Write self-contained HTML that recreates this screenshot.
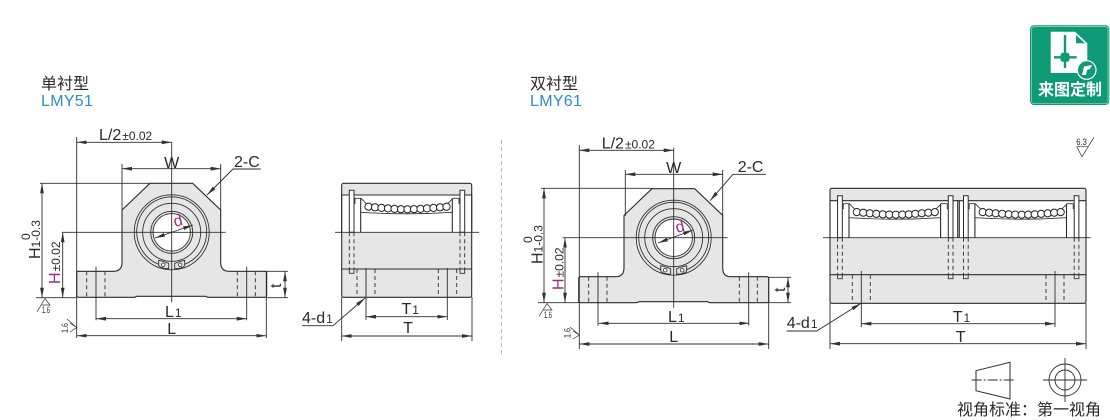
<!DOCTYPE html>
<html><head><meta charset="utf-8"><style>
html,body{margin:0;padding:0;background:#fff}
svg{display:block}
text{font-family:"Liberation Sans","Noto Sans CJK SC",sans-serif;fill:#2a2a2a}
.d{stroke:#2e2e2e;stroke-width:.9;fill:none}
.o{stroke:#2b2b2b;stroke-width:1.1;fill:none}
.t{font-size:16px}
.s{font-size:12px}
.r{stroke:#333;stroke-width:.7;fill:none}
</style></head><body>
<svg width="1110" height="420" viewBox="0 0 1110 420" xmlns="http://www.w3.org/2000/svg">
<defs>
<marker id="a" viewBox="0 0 10 5" refX="10" refY="2.5" markerWidth="10" markerHeight="5" markerUnits="userSpaceOnUse" orient="auto-start-reverse"><path d="M0,.6L10,2.5L0,4.4Z" fill="#333"/></marker>
<g id="front">
<path d="M-95,65V41Q-95,39-93,39H-58Q-49.7,39-49.7,30V-22.3L-21.7,-49H21L49,-22.3V30Q49,39 57,39H93Q95,39 95,41V63Q95,65 93,65H36L34,64H-35L-37,65H-93Q-95,65-95,63Z" fill="#e6e6e6" stroke="#2b2b2b" stroke-width="1.1"/>
<g fill="none" stroke="#2b2b2b" stroke-width=".85">
<circle r="37.5"/>
<path d="M-13,32A35,35 0 1 1 13,32"/>
<circle r="29"/>
</g>
<circle r="21" fill="#e6e6e6" stroke="#2b2b2b" stroke-width=".9"/>
<circle r="18.7" fill="#fff" stroke="#2b2b2b" stroke-width=".9"/>
<path d="M-13,28L-13,33Q-12,36-3,36.5L-3,31Q-8,29-13,28ZM13,28L13,33Q12,36 3,36.5L3,31Q8,29 13,28Z" fill="#e6e6e6" stroke="#2b2b2b" stroke-width=".85"/>
<circle cx="-8.5" cy="32.5" r="1.8" fill="#fff" stroke="#2b2b2b" stroke-width=".8"/><circle cx="8.5" cy="32.5" r="1.8" fill="#fff" stroke="#2b2b2b" stroke-width=".8"/>
<path class="d" d="M0,-90V70M-46,0H54"/>
<path class="d" d="M-75.7,34.5V88M75,34.5V88"/>
<path class="d" stroke-dasharray="4 3" d="M-85,39V65M-66.7,39V65M65.6,39V65M83.6,39V65"/>
</g>
<g id="balls">
<g fill="#fff" stroke="#222" stroke-width="1">
<circle cx="-38.5" cy="-25.6" r="3.6"/><circle cx="-32" cy="-25" r="3.6"/><circle cx="-25.5" cy="-24.4" r="3.6"/><circle cx="-19" cy="-23.9" r="3.6"/><circle cx="-12.5" cy="-23.4" r="3.6"/><circle cx="-6" cy="-23.1" r="3.6"/><circle cx=".5" cy="-23" r="3.6"/><circle cx="7" cy="-23.1" r="3.6"/><circle cx="13.5" cy="-23.4" r="3.6"/><circle cx="20" cy="-23.9" r="3.6"/><circle cx="26.5" cy="-24.4" r="3.6"/><circle cx="33" cy="-25" r="3.6"/><circle cx="39.5" cy="-25.6" r="3.6"/>
</g>
</g>
<g id="cell">
<path class="o" d="M-46.3,-34V0M45.3,-34V0"/>
<path class="r" style="stroke-width:.9" d="M-53,-29H-52V-34H-46L-39,-27M53,-29H52V-34H46L39,-27"/>
<path class="r" style="stroke-width:.8" d="M-46,-20Q0,-17 45,-20"/>
<use href="#balls"/>
<path d="M-57.7,-37V-42H-53V-37V0H-57.7ZM57.7,-37V-42H53V-37V0H57.7Z" fill="#fff" stroke="#2b2b2b" stroke-width="1"/>
<path class="d" stroke-dasharray="4 3" d="M-57.7,0V37M-53,0V37M57.7,0V37M53,0V37"/>
<path class="r" style="stroke-width:.9" d="M-57.7,37V41H-53V37M57.7,37V41H53V37"/>
</g>
</defs>

<text x="41" y="89" class="t">单衬型</text>
<text x="41" y="106" class="t" style="fill:#2b8fc5;letter-spacing:.3px">LMY51</text>
<text x="530" y="89" class="t">双衬型</text>
<text x="530" y="106" class="t" style="fill:#2b8fc5;letter-spacing:.3px">LMY61</text>

<!-- LEFT FRONT -->
<use href="#front" x="171.7" y="232.3"/>
<path class="d" d="M76.7,137V338M266.3,271V338M122,164V210M220.7,164V210M40,183.3H150M36,297.7H76M62,232.3H126M266,271.3H288M266,297.7H288"/>
<path class="d" marker-start="url(#a)" marker-end="url(#a)" d="M76.7,142.3H171.7"/>
<path class="d" marker-start="url(#a)" marker-end="url(#a)" d="M122,168.7H220.7"/>
<path class="d" marker-start="url(#a)" marker-end="url(#a)" d="M42,183.3V297.7"/>
<path class="d" marker-start="url(#a)" marker-end="url(#a)" d="M62.7,232.3V297.7"/>
<path class="d" marker-start="url(#a)" marker-end="url(#a)" d="M96,318.7H246.7"/>
<path class="d" marker-start="url(#a)" marker-end="url(#a)" d="M76.7,335.7H266.3"/>
<path class="d" marker-end="url(#a)" d="M260.7,169H233L207,195"/>
<path class="d" marker-start="url(#a)" marker-end="url(#a)" d="M155,238L193,225"/>
<path class="d" marker-start="url(#a)" marker-end="url(#a)" d="M285,271.3V297.7"/>
<text x="99" y="140" class="t">L/2<tspan class="s" dx="1">±0.02</tspan></text>
<text x="171.7" y="168" class="t" text-anchor="middle">W</text>
<text x="234" y="167" class="t">2-C</text>
<text x="165" y="317" class="t">L<tspan class="s" dx="1">1</tspan></text>
<text x="171.7" y="334" class="t" text-anchor="middle">L</text>
<text transform="translate(40,259) rotate(-90)" class="t">H<tspan class="s">1-0.3</tspan></text>
<text transform="translate(30,240) rotate(-90)" class="s">0</text>
<text transform="translate(60,284) rotate(-90)" class="t"><tspan style="fill:#a0288a">H</tspan><tspan class="s" dx="1">±0.02</tspan></text>
<text transform="translate(175,227) rotate(-15)" class="t" style="fill:#a0288a">d</text>
<text transform="translate(281,288) rotate(-90)" class="t">t</text>

<!-- LEFT SIDE -->
<rect x="341.7" y="183.3" width="130" height="114" rx="2" fill="#e6e6e6" stroke="#2b2b2b" stroke-width="1.1"/>
<rect x="342.2" y="195" width="129" height="37.3" fill="#fff"/>
<path class="o" d="M341.7,195H471.7M341.7,269H471.7M341.7,195V232M471.7,195V232"/>
<use href="#cell" x="407" y="232.3"/>
<path class="d" d="M335,232.3H479"/>
<path class="d" d="M366,268V320M447.3,268V320M341.7,297V341M472,297V341"/>
<path class="d" stroke-dasharray="4 3" d="M357,269V297M375,269V297M438.3,269V297M456.7,269V297"/>
<path class="d" marker-start="url(#a)" marker-end="url(#a)" d="M366,316.7H447.3"/>
<path class="d" marker-start="url(#a)" marker-end="url(#a)" d="M341.7,336H472"/>
<path class="d" marker-end="url(#a)" d="M302,325.7H333L365,298"/>
<text x="302" y="323" class="t">4-d<tspan class="s" dx="1">1</tspan></text>
<text x="401.5" y="314" class="t">T<tspan class="s" dx="1">1</tspan></text>
<text x="408" y="333" class="t" text-anchor="middle">T</text>

<!-- DIVIDER -->
<path d="M501.5,140V355" stroke="#aaa" stroke-width=".8" stroke-dasharray="4 3" fill="none"/>

<!-- RIGHT FRONT -->
<use href="#front" x="673.7" y="237.7"/>
<path class="d" d="M579.3,145V349M768.7,277V349M625.3,170V216M722.7,170V216M541,188.3H653M538,302.7H579M562.7,237.7H628M768.7,277.3H791M768.7,302.7H791"/>
<path class="d" marker-start="url(#a)" marker-end="url(#a)" d="M579.3,150.3H673.7"/>
<path class="d" marker-start="url(#a)" marker-end="url(#a)" d="M625.3,174.3H722.7"/>
<path class="d" marker-start="url(#a)" marker-end="url(#a)" d="M544,188.3V302.7"/>
<path class="d" marker-start="url(#a)" marker-end="url(#a)" d="M565,237.7V302.7"/>
<path class="d" marker-start="url(#a)" marker-end="url(#a)" d="M598.7,323.3H749.3"/>
<path class="d" marker-start="url(#a)" marker-end="url(#a)" d="M579.3,344H768.7"/>
<path class="d" marker-end="url(#a)" d="M766,174.3H733L710,200.7"/>
<path class="d" marker-start="url(#a)" marker-end="url(#a)" d="M658,243L693,230"/>
<path class="d" marker-start="url(#a)" marker-end="url(#a)" d="M788,277.3V302.7"/>
<text x="601.7" y="148.7" class="t">L/2<tspan class="s" dx="1">±0.02</tspan></text>
<text x="673.7" y="173" class="t" text-anchor="middle">W</text>
<text x="737.7" y="172" class="t">2-C</text>
<text x="668" y="322" class="t">L<tspan class="s" dx="1">1</tspan></text>
<text x="673.7" y="342" class="t" text-anchor="middle">L</text>
<text transform="translate(542.7,264) rotate(-90)" class="t">H<tspan class="s">1-0.3</tspan></text>
<text transform="translate(532,243) rotate(-90)" class="s">0</text>
<text transform="translate(563.3,290) rotate(-90)" class="t"><tspan style="fill:#a0288a">H</tspan><tspan class="s" dx="1">±0.02</tspan></text>
<text transform="translate(677,233) rotate(-15)" class="t" style="fill:#a0288a">d</text>
<text transform="translate(785,292) rotate(-90)" class="t">t</text>

<!-- RIGHT SIDE -->
<rect x="830" y="188.3" width="256" height="115" rx="2" fill="#e6e6e6" stroke="#2b2b2b" stroke-width="1.1"/>
<rect x="830.5" y="200.7" width="255" height="37" fill="#fff"/>
<path class="o" d="M830,200.7H1086M830,274.7H1086M830,200.7V237.7M1086,200.7V237.7M957.7,201V237.7M959.3,201V237.7"/>
<use href="#cell" x="895.3" y="237.7"/>
<use href="#cell" x="1021.2" y="237.7"/>
<path class="d" d="M823,237.7H1090.7"/>
<path class="d" d="M861.3,271V327M1055,271V327M830,303V349M1086,303V349"/>
<path class="d" stroke-dasharray="4 3" d="M852.3,275V303M870.3,275V303M1046,275V303M1064,275V303"/>
<path class="d" marker-start="url(#a)" marker-end="url(#a)" d="M861.3,323.7H1055"/>
<path class="d" marker-start="url(#a)" marker-end="url(#a)" d="M830,343.7H1086"/>
<path class="d" marker-end="url(#a)" d="M786.7,331H816.7L861,303.3"/>
<text x="786.7" y="328" class="t">4-d<tspan class="s" dx="1">1</tspan></text>
<text x="952.7" y="322" class="t">T<tspan class="s" dx="1">1</tspan></text>
<text x="960.7" y="342" class="t" text-anchor="middle">T</text>

<!-- ROUGHNESS -->
<path class="r" d="M37,312L45,298.5L50,305H41.5"/>
<path class="r" d="M70,323L76.7,327.6L70,332M67,319L76.7,327.6"/>
<path class="r" d="M539,316.5L547,303.5L552,310H543.5"/>
<path class="r" d="M573,331L579.3,335L573,339M570,327L579.3,335"/>
<path class="r" d="M1076.7,146.7H1088M1076.7,146.7L1082,156.7L1094,137.3"/>
<text x="42" y="313" style="font-size:9px" textLength="8" lengthAdjust="spacingAndGlyphs">1.6</text>
<text x="544" y="318" style="font-size:9px" textLength="8" lengthAdjust="spacingAndGlyphs">1.6</text>
<text transform="translate(68,333) rotate(-90)" style="font-size:9px" textLength="10" lengthAdjust="spacingAndGlyphs">1.6</text>
<text transform="translate(570.5,338) rotate(-90)" style="font-size:9px" textLength="10" lengthAdjust="spacingAndGlyphs">1.6</text>
<text x="1076.3" y="145" style="font-size:9px" textLength="10.5" lengthAdjust="spacingAndGlyphs">6.3</text>

<!-- LOGO -->
<rect x="1030" y="25.3" width="79.3" height="79.7" rx="4" fill="#0f9a76"/>
<rect x="1031.3" y="26.6" width="76.7" height="77.1" rx="3" fill="none" stroke="#9fd8c6" stroke-width=".7"/>
<path d="M1050.7,31.7H1075L1087.3,43.3V73H1050.7Z" fill="#fff"/>
<path d="M1076,35L1085,43.3H1076Z" fill="#0f9a76"/>
<path d="M1065,35V68M1054,57.3H1076.7" stroke="#0f9a76" stroke-width="2.4" fill="none"/>
<rect x="1060.5" y="52.8" width="9" height="9" rx="2.5" fill="#0f9a76"/>
<circle cx="1086.7" cy="70" r="9.3" fill="#0f9a76" stroke="#fff" stroke-width="1.2"/>
<path d="M1082,75L1084,66.5L1092,65L1090,69L1087,70L1086,75Z" fill="#fff"/>
<text x="1038" y="95" style="font-size:16px;font-weight:700;fill:#fff">来图定制</text>

<!-- PROJECTION -->
<path d="M976,370.7L1010,362.3V399L976,390.7Z" fill="none" stroke="#2b2b2b" stroke-width="1"/>
<path class="d" stroke-dasharray="10 2 2 2" d="M971.7,380H1015"/>
<g fill="none" stroke="#2b2b2b" stroke-width=".9"><circle cx="1065" cy="380" r="16"/><circle cx="1065" cy="380" r="10"/></g>
<path class="d" d="M1043,380H1087M1065,358V402"/>
<text x="957" y="415" style="font-size:16px">视角标准：第一视角</text>
</svg>
</body></html>
